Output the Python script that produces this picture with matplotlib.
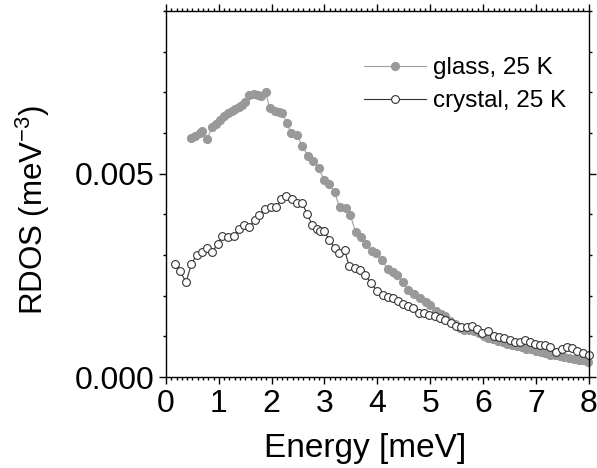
import matplotlib
matplotlib.use('Agg')
import matplotlib.pyplot as plt
from matplotlib.ticker import MultipleLocator, FormatStrFormatter

plt.rcParams['font.family'] = ['Liberation Sans', 'DejaVu Sans']
plt.rcParams['mathtext.fontset'] = 'custom'
plt.rcParams['mathtext.rm'] = 'Liberation Sans'
plt.rcParams['mathtext.it'] = 'Liberation Sans'

# glass, 25 K  (energy in meV, RDOS in 1e-3 meV^-3)
glass_e = [0.48, 0.55, 0.64, 0.69, 0.78, 0.87, 0.95, 1.03, 1.10, 1.17,
           1.25, 1.31, 1.38, 1.44, 1.49, 1.58, 1.66, 1.74, 1.80, 1.89,
           1.96, 2.06, 2.13, 2.20, 2.29, 2.37, 2.48, 2.58, 2.69, 2.78,
           2.89, 2.99, 3.09, 3.19, 3.29, 3.40, 3.49, 3.59, 3.69, 3.79,
           3.90, 3.98, 4.09, 4.20, 4.30, 4.38, 4.48, 4.59, 4.69, 4.81,
           4.92, 5.00, 5.12, 5.20, 5.29, 5.38, 5.47, 5.56, 5.65, 5.74,
           5.83, 5.92, 6.01, 6.10, 6.19, 6.28, 6.37, 6.46, 6.55, 6.64,
           6.73, 6.82, 6.91, 7.00, 7.09, 7.18, 7.27, 7.36, 7.45, 7.54,
           7.63, 7.72, 7.81, 7.90, 7.99]
glass_r = [5.87, 5.92, 6.00, 6.04, 5.85, 6.14, 6.22, 6.33, 6.41, 6.49,
           6.54, 6.59, 6.65, 6.69, 6.76, 6.94, 6.96, 6.94, 6.91, 7.00,
           6.61, 6.55, 6.51, 6.49, 6.24, 6.00, 5.96, 5.67, 5.44, 5.32,
           5.15, 4.85, 4.74, 4.54, 4.17, 4.15, 3.98, 3.56, 3.44, 3.26,
           3.09, 3.06, 2.87, 2.65, 2.58, 2.52, 2.33, 2.15, 2.04, 1.94,
           1.84, 1.77, 1.63, 1.55, 1.50, 1.38, 1.30, 1.20, 1.16, 1.16,
           1.12, 1.08, 1.02, 0.97, 0.93, 0.89, 0.86, 0.82, 0.79, 0.76,
           0.74, 0.70, 0.68, 0.64, 0.61, 0.58, 0.55, 0.53, 0.51, 0.49,
           0.47, 0.45, 0.43, 0.41, 0.38]

# crystal, 25 K
cryst_e = [0.18, 0.27, 0.38, 0.48, 0.58, 0.68, 0.78, 0.88, 0.98, 1.07,
           1.17, 1.28, 1.38, 1.47, 1.58, 1.68, 1.77, 1.88, 1.98, 2.09,
           2.18, 2.28, 2.38, 2.48, 2.58, 2.67, 2.77, 2.85, 2.92, 2.99,
           3.09, 3.19, 3.28, 3.38, 3.47, 3.57, 3.67, 3.76, 3.89, 4.00,
           4.10, 4.20, 4.30, 4.39, 4.49, 4.58, 4.68, 4.79, 4.89, 4.98,
           5.09, 5.18, 5.29, 5.39, 5.49, 5.58, 5.69, 5.79, 5.89, 5.99,
           6.10, 6.20, 6.31, 6.40, 6.51, 6.61, 6.70, 6.80, 6.89, 6.99,
           7.08, 7.18, 7.27, 7.38, 7.49, 7.59, 7.68, 7.78, 7.89, 8.00]
cryst_r = [2.79, 2.60, 2.33, 2.77, 3.01, 3.07, 3.18, 3.08, 3.28, 3.46,
           3.45, 3.46, 3.65, 3.75, 3.70, 3.86, 3.98, 4.14, 4.17, 4.17,
           4.37, 4.45, 4.37, 4.27, 4.27, 4.02, 3.73, 3.63, 3.59, 3.59,
           3.38, 3.18, 3.05, 3.12, 2.72, 2.68, 2.62, 2.52, 2.30, 2.11,
           2.02, 1.98, 1.94, 1.88, 1.80, 1.74, 1.70, 1.57, 1.57, 1.53,
           1.49, 1.45, 1.39, 1.33, 1.26, 1.22, 1.24, 1.26, 1.18, 1.09,
           1.14, 1.01, 0.98, 0.96, 0.91, 0.87, 0.87, 0.90, 0.85, 0.81,
           0.79, 0.79, 0.75, 0.62, 0.68, 0.73, 0.71, 0.65, 0.59, 0.54]

fig = plt.figure(figsize=(5.97, 4.68), dpi=100)
ax = fig.add_axes([0.278, 0.1944, 0.708, 0.782])

ax.plot(glass_e, [v * 1e-3 for v in glass_r], '-o', color='#a0a0a0', lw=0.8,
        ms=5.6, mfc='#999999', mec='#999999', label='glass, 25 K', clip_on=False)
ax.plot(cryst_e, [v * 1e-3 for v in cryst_r], '-o', color='#333333', lw=0.8,
        ms=5.6, mfc='white', mec='#333333', mew=0.8, label='crystal, 25 K', clip_on=False)

ax.set_xlim(0, 8)
ax.set_ylim(0, 0.009)
ax.xaxis.set_major_locator(MultipleLocator(1))
ax.xaxis.set_minor_locator(MultipleLocator(0.1))
ax.yaxis.set_major_locator(MultipleLocator(0.005))
ax.yaxis.set_minor_locator(MultipleLocator(0.001))
ax.yaxis.set_major_formatter(FormatStrFormatter('%.3f'))

ax.tick_params(which='both', direction='out', top=True, right=True,
               labelsize=23, width=1)
ax.tick_params(which='major', length=5)
ax.tick_params(which='minor', length=2.2)
for s in ax.spines.values():
    s.set_linewidth(1)

ax.set_xlabel('Energy [meV]', fontsize=24, labelpad=10)
ax.set_ylabel('RDOS (meV$^{-3}$)', fontsize=22.5, labelpad=16)
ax.xaxis.label.set_x(0.472)
ax.yaxis.label.set_y(0.456)

ax.legend(loc='upper right', bbox_to_anchor=(0.988, 0.92), frameon=False,
          fontsize=17.5, handlelength=2.55, handletextpad=0.3, labelspacing=0.45,
          borderaxespad=0.3)

fig.savefig('out.png', dpi=100)
